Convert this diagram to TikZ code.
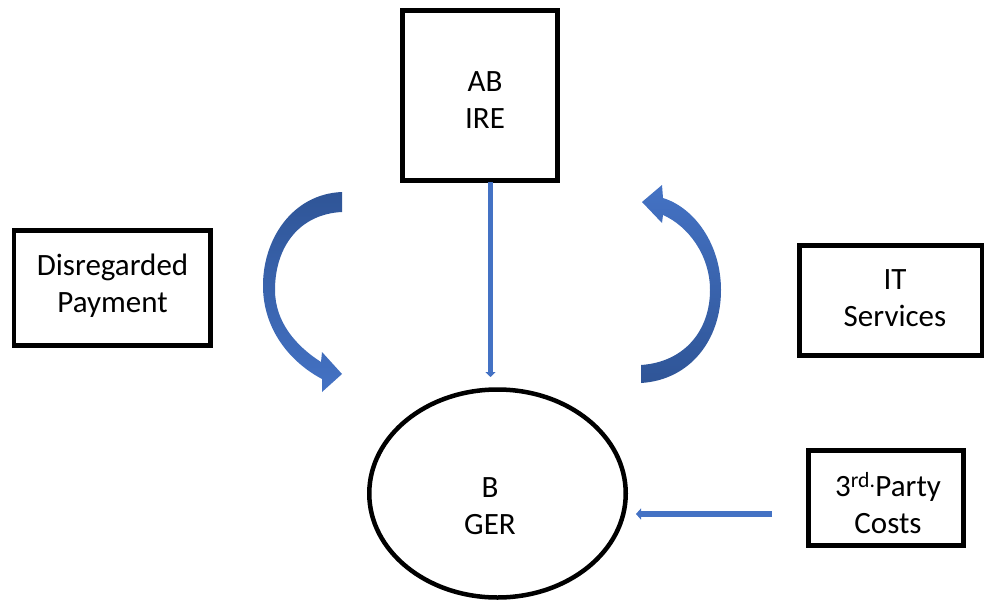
\documentclass[tikz,border=0pt]{standalone}
\usepackage{fontspec}
\setmainfont{Carlito}
\usetikzlibrary{arrows.meta,shapes.geometric}
\definecolor{linkblue}{RGB}{68,114,196}
\definecolor{darkblue}{RGB}{47,85,151}
\tikzset{
  boxnode/.style={draw=black, line width=4.5pt, fill=white, inner sep=0pt},
  lbl/.style={align=center, inner sep=0pt, font=\fontsize{31}{37}\selectfont},
  flow/.style={draw=linkblue, line width=5pt},
}
\begin{document}
\begin{tikzpicture}[x=1pt,y=-1pt]
\useasboundingbox (0,0) rectangle (985,602);
% boxes
\node[boxnode, minimum width=155pt, minimum height=170pt] (ab) at (480,95.5) {};
\node[boxnode, minimum width=196.5pt, minimum height=115pt] (dp) at (112.25,288) {};
\node[boxnode, minimum width=182.5pt, minimum height=110pt] (it) at (890.75,300.5) {};
\node[boxnode, minimum width=155pt, minimum height=95pt] (tp) at (886,498) {};
\node[draw=black, line width=4.5pt, ellipse, minimum width=256.5pt, minimum height=208pt, inner sep=0pt] (bg) at (497.5,493.5) {};
% labels
\node[lbl] (abt) at (485,100.5) {AB\\IRE};
\node[lbl] (dpt) at (112.5,286) {Disregarded\\Payment};
\node[lbl] (itt) at (895,298.5) {IT\\Services};
\node[lbl] (tpt) at (888,503) {3\textsuperscript{rd.}Party\\Costs};
\node[lbl] (bgt) at (490,506) {B\\GER};
% connectors
\coordinate (vtop) at (490.5,182);
\coordinate (vtip) at (490.5,377);
\coordinate (htip) at (636,514);
\coordinate (hstart) at (772,514);
\draw[flow, line width=5pt, -{Triangle[length=5pt,width=10pt]}] (vtop) -- (vtip);
\draw[flow, line width=5.5pt, -{Triangle[length=5pt,width=11pt]}] (hstart) -- (htip);
% curved arrows
\path[top color=darkblue, bottom color=linkblue]
  (342,192) .. controls (292,194) and (262,240) .. (263,288)
  .. controls (264,330) and (290,362) .. (322,379)
  -- (322,392) -- (342,374) -- (322,352) -- (321,362)
  .. controls (296,346) and (275,322) .. (275,290)
  .. controls (275,246) and (300,214) .. (342,212) -- cycle;
\path[top color=linkblue, bottom color=darkblue]
  (641,383) .. controls (690,380) and (721,340) .. (721,290)
  .. controls (721,245) and (695,208) .. (663,198)
  -- (662,185) -- (642,202) -- (662,223) -- (663,215)
  .. controls (688,226) and (710,255) .. (710,290)
  .. controls (710,330) and (685,362) .. (641,365) -- cycle;
\end{tikzpicture}
\end{document}
